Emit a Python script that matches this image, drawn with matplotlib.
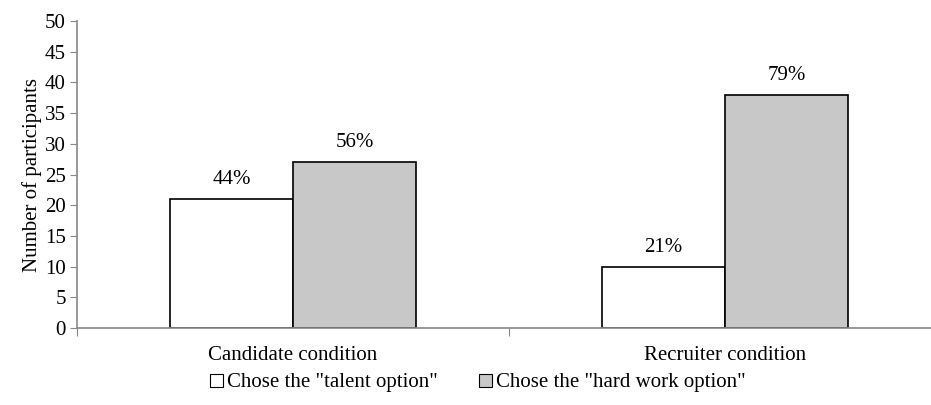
import matplotlib
matplotlib.use("Agg")
import matplotlib.pyplot as plt
import numpy as np
from matplotlib.patches import Patch

# datos del grafico
categorias = ["Candidate condition", "Recruiter condition"]
series = ['Chose the "talent option"', 'Chose the "hard work option"']
talento = [21, 10]
trabajo = [27, 38]
etiquetas_talento = ["44%", "21%"]
etiquetas_trabajo = ["56%", "79%"]

plt.rcParams["font.family"] = ["Liberation Serif", "DejaVu Serif"]
fs = 15

fig = plt.figure(figsize=(9.31, 4.05), dpi=100)
ax = fig.add_axes([77 / 931, 1 - 328 / 405, 864 / 931, 307 / 405])

x = np.arange(len(categorias))
ancho = 0.285
gris_eje = "#888888"

b1 = ax.bar(x - ancho / 2, talento, ancho, color="white", edgecolor="black", linewidth=1.2, zorder=2)
b2 = ax.bar(x + ancho / 2, trabajo, ancho, color="#c8c8c8", edgecolor="black", linewidth=1.2, zorder=2)

for rect, txt in zip(b1, etiquetas_talento):
    ax.text(rect.get_x() + rect.get_width() / 2, rect.get_height() + 1.6, txt,
            ha="center", va="bottom", fontsize=fs)
for rect, txt in zip(b2, etiquetas_trabajo):
    ax.text(rect.get_x() + rect.get_width() / 2, rect.get_height() + 1.6, txt,
            ha="center", va="bottom", fontsize=fs)

ax.set_xlim(-0.5, 1.5)
ax.set_ylim(0, 50)
ax.set_yticks(np.arange(0, 51, 5))
ax.tick_params(axis="y", labelsize=fs, length=5, color=gris_eje, pad=3)

# ticks de categoria entre grupos
ax.set_xticks([-0.5, 0.5, 1.5])
ax.set_xticklabels([])
ax.set_xticks(x, minor=True)
ax.set_xticklabels(categorias, minor=True, fontsize=fs)
ax.tick_params(axis="x", which="major", length=6, color=gris_eje, direction="out")
ax.tick_params(axis="x", which="minor", length=0, pad=13)

for lado in ["top", "right"]:
    ax.spines[lado].set_visible(False)
for lado in ["left", "bottom"]:
    ax.spines[lado].set_color(gris_eje)
    ax.spines[lado].set_linewidth(1.2)
    ax.spines[lado].set_zorder(3)

ax.set_ylabel("Number of participants", fontsize=fs, labelpad=2)

handles = [Patch(facecolor="white", edgecolor="black", linewidth=0.8),
           Patch(facecolor="#c8c8c8", edgecolor="black", linewidth=0.8)]
fig.legend(handles, series, loc="center", bbox_to_anchor=(478 / 931, 1 - 383 / 405), ncol=2,
           frameon=False, fontsize=fs, handlelength=0.6, handleheight=0.6,
           handletextpad=0.2, columnspacing=2.0)

fig.savefig("out.png", dpi=100)
